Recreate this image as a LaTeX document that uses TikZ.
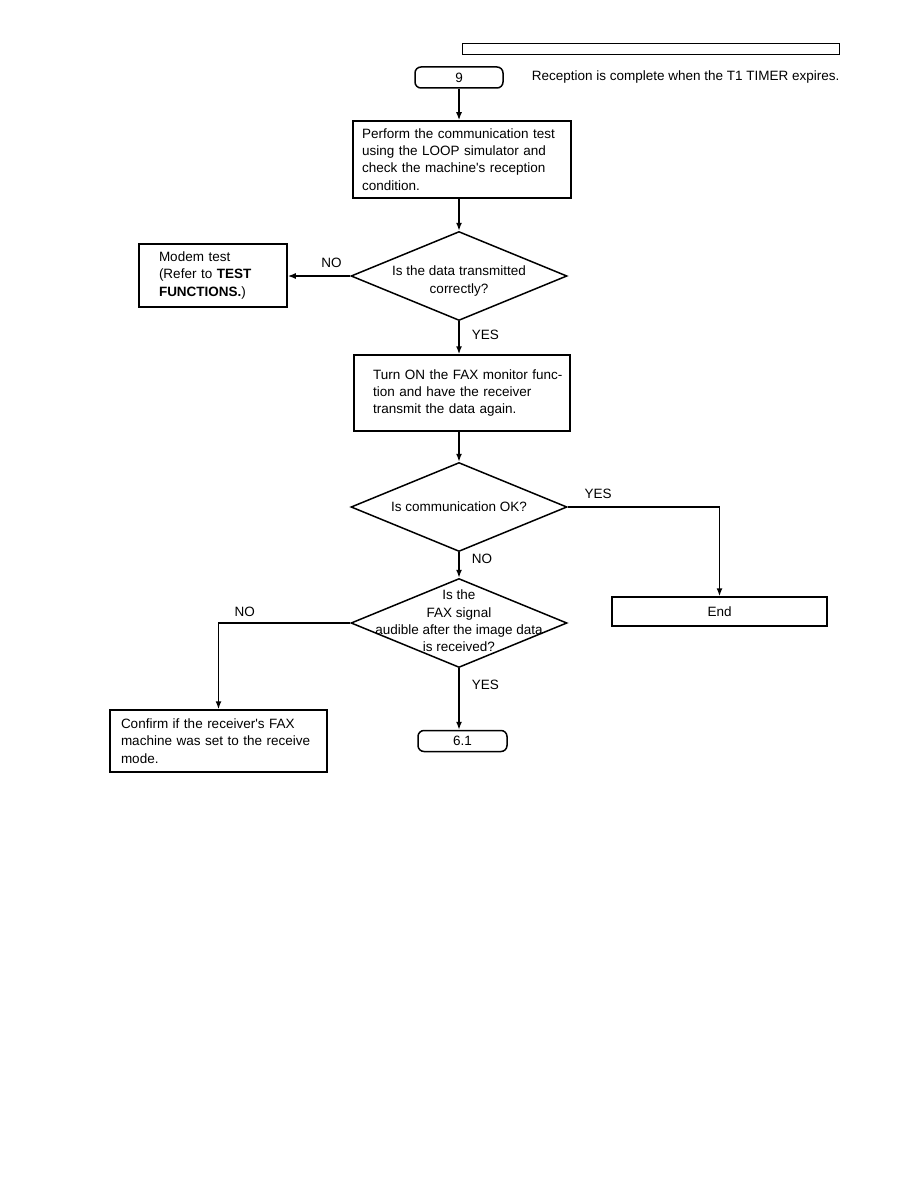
\documentclass[tikz,border=0pt]{standalone}
\usepackage{fontspec}
\setmainfont{Liberation Sans}
\usetikzlibrary{arrows.meta,positioning,shapes.geometric}

\begin{document}
\begin{tikzpicture}[x=1pt,y=-1pt,
      font=\fontsize{13.5}{17.3}\selectfont,line width=1.5pt,
      termbox/.style={draw,rounded corners=6pt,minimum height=21pt,inner sep=0pt},
      procbox/.style={draw,align=left,inner ysep=0pt},
      decision/.style={draw,diamond,minimum width=216pt,minimum height=89pt,inner sep=0pt},
      arr/.style={-{Latex[length=8pt,width=6pt]}},
      lbl/.style={inner sep=3pt}]
    \useasboundingbox (0,0) rectangle (918,1188);
    \node[draw,line width=0.9pt,minimum width=377pt,minimum height=11pt,inner sep=0pt]
      (headbar) at (650.5,48.5) {};
    \node[termbox,minimum width=88pt] (nine) at (459,77.5) {9};
    \node[right=24pt of nine] (note) {Reception is complete when the T1 TIMER expires.};
    \node[procbox,text width=200pt,inner xsep=9pt,minimum height=77pt] (perform) at (462,159.5)
      {Perform the communication test\\using the LOOP simulator and\\check the machine\textquotesingle s reception\\condition.};
    \node[decision,label={[align=center,yshift=-5pt]center:Is the data transmitted\\correctly?}]
      (datachk) at (459,276) {};
    \node[procbox,text width=108pt,inner xsep=20pt,minimum height=63pt] (modem) at (213,275.5)
      {Modem test\\(Refer to \textbf{TEST}\\\textbf{FUNCTIONS.})};
    \node[procbox,text width=178pt,inner xsep=19pt,minimum height=76pt] (monitor) at (462,393)
      {\mbox{Turn ON the FAX monitor func-}\\\mbox{tion and have the receiver}\\\mbox{transmit the data again.}};
    \node[decision,label={center:Is communication OK?}] (commchk) at (459,507) {};
    \node[draw,minimum width=215pt,minimum height=29pt,inner sep=0pt] (finish) at (719.5,611.5) {End};
    \node[decision,label={[align=center,yshift=2pt]center:Is the\\FAX signal\\audible after the image data\\is received?}]
      (faxchk) at (459,623) {};
    \node[procbox,text width=195pt,inner xsep=11pt,minimum height=62pt] (confirm) at (218.5,741)
      {Confirm if the receiver\textquotesingle s FAX\\machine was set to the receive\\mode.};
    \node[termbox,minimum width=89pt] (sixone) at (462.5,741) {6.1};

    \draw[arr] (nine) -- (nine |- perform.north);
    \draw[arr] (perform.south -| datachk) -- (datachk.north);
    \draw[arr] (datachk.west) -- node[lbl,pos=0.3,above=5pt]{NO} (datachk.west -| modem.east);
    \draw[arr] (datachk.south) -- node[lbl,pos=0.4,right=9pt]{YES} (datachk.south |- monitor.north);
    \draw[arr] (monitor.south -| commchk) -- (commchk.north);
    \draw[arr] (commchk.east) -| node[lbl,pos=0.1,above=5pt]{YES} (finish.north);
    \draw[arr] (commchk.south) -- node[lbl,pos=0.25,right=9pt]{NO} (faxchk.north);
    \draw[arr] (faxchk.west) -| node[lbl,pos=0.4,above=3pt]{NO} (confirm.north);
    \draw[arr] (faxchk.south) -- node[lbl,pos=0.27,right=9pt]{YES} (faxchk.south |- sixone.north);
\end{tikzpicture}
\end{document}
